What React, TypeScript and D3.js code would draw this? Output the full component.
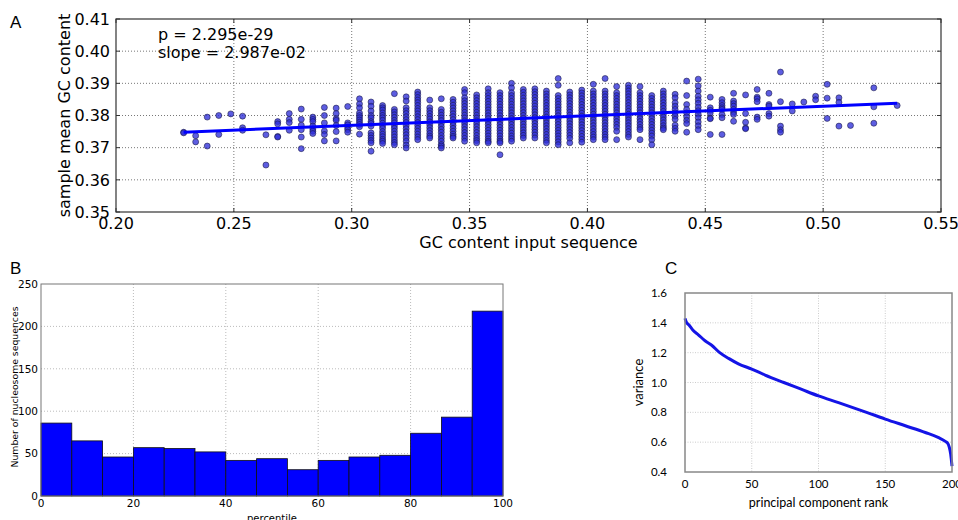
import React from "react";
import * as d3 from "d3";

// ---- panel A: GC content of input sequence (columns) vs sample mean GC content
const gcInput = [
  0.2287, 0.2338, 0.2387, 0.2436, 0.2487, 0.2537, 0.2636, 0.2686, 0.2735, 0.2786,
  0.2835, 0.2884, 0.2934, 0.2983, 0.3033, 0.3082, 0.3131, 0.3181, 0.3231, 0.328,
  0.3331, 0.338, 0.343, 0.3479, 0.353, 0.3579, 0.3629, 0.3678, 0.3728, 0.3777,
  0.3826, 0.3876, 0.3925, 0.3976, 0.4025, 0.4075, 0.4124, 0.4174, 0.4223, 0.4273,
  0.4322, 0.4372, 0.4421, 0.447, 0.4521, 0.4571, 0.462, 0.4671, 0.472, 0.477,
  0.4819, 0.4869, 0.4918, 0.4968, 0.5017, 0.5067, 0.5116, 0.5215, 0.5314,
];

const sampleMeans = [
  [0.3748, 0.3746],
  [0.3737, 0.3718],
  [0.3795, 0.3705],
  [0.38, 0.3741],
  [0.3805],
  [0.3798, 0.3762, 0.3754],
  [0.374, 0.3646],
  [0.3781, 0.3774, 0.3735, 0.3733],
  [0.3806, 0.3788, 0.3778, 0.3754],
  [0.382, 0.3788, 0.377, 0.3756, 0.3733, 0.3697],
  [0.3795, 0.3788, 0.3781, 0.3767, 0.3758, 0.3751, 0.3744],
  [0.3825, 0.38, 0.3777, 0.3752, 0.3741, 0.3721],
  [0.3823, 0.3806, 0.379, 0.3785, 0.3769, 0.375, 0.3721],
  [0.3828, 0.3777, 0.3771, 0.3762, 0.3756, 0.3748],
  [0.3852, 0.3836, 0.3824, 0.3808, 0.38, 0.3793, 0.3786, 0.3779, 0.3772, 0.3765, 0.3742],
  [0.3842, 0.3829, 0.3814, 0.38, 0.3793, 0.3781, 0.3775, 0.3767, 0.3746, 0.3738, 0.373, 0.3722, 0.3715, 0.3689],
  [0.3831, 0.3824, 0.3817, 0.3808, 0.38, 0.3793, 0.3785, 0.3776, 0.3768, 0.376, 0.375, 0.3742, 0.3734, 0.3726, 0.372, 0.3713],
  [0.3868, 0.3819, 0.3811, 0.3802, 0.3794, 0.3785, 0.3777, 0.3768, 0.376, 0.3751, 0.3742, 0.3733, 0.3724, 0.3716, 0.3709],
  [0.3858, 0.3845, 0.3824, 0.3815, 0.3806, 0.3796, 0.3787, 0.3778, 0.3768, 0.3759, 0.3749, 0.374, 0.373, 0.372, 0.3708, 0.3699],
  [0.3873, 0.3865, 0.3856, 0.3848, 0.384, 0.3831, 0.3822, 0.3814, 0.3805, 0.3796, 0.3787, 0.3778, 0.3769, 0.376, 0.3751, 0.3742, 0.3733, 0.3725],
  [0.3848, 0.3824, 0.3815, 0.3806, 0.3797, 0.3789, 0.378, 0.3771, 0.3762, 0.3753, 0.3744, 0.3736, 0.373],
  [0.3852, 0.3819, 0.381, 0.3801, 0.3792, 0.3784, 0.3775, 0.3766, 0.3757, 0.3748, 0.3738, 0.3729, 0.372, 0.371, 0.3705, 0.3699],
  [0.385, 0.3841, 0.3832, 0.3823, 0.3814, 0.3805, 0.3796, 0.3787, 0.3778, 0.3769, 0.376, 0.3751, 0.3742, 0.3735, 0.373],
  [0.3881, 0.3871, 0.3855, 0.3846, 0.3837, 0.3828, 0.3819, 0.381, 0.3801, 0.3792, 0.3783, 0.3774, 0.3765, 0.3756, 0.3747, 0.3738, 0.3729, 0.372],
  [0.3864, 0.3855, 0.3846, 0.3837, 0.3828, 0.3819, 0.381, 0.3801, 0.3792, 0.3783, 0.3774, 0.3765, 0.3756, 0.3747, 0.3738, 0.3729, 0.3722, 0.3715],
  [0.3883, 0.3871, 0.3862, 0.3853, 0.3844, 0.3835, 0.3826, 0.3817, 0.3808, 0.3799, 0.379, 0.3781, 0.3772, 0.3763, 0.3754, 0.3745, 0.3736, 0.3727, 0.372, 0.3715],
  [0.3871, 0.3862, 0.3853, 0.3844, 0.3835, 0.3826, 0.3817, 0.3808, 0.3799, 0.379, 0.3781, 0.3772, 0.3763, 0.3754, 0.3745, 0.3736, 0.3727, 0.372, 0.3715, 0.3678],
  [0.39, 0.3886, 0.3871, 0.3862, 0.3853, 0.3844, 0.3835, 0.3826, 0.3817, 0.3808, 0.3799, 0.379, 0.3781, 0.3772, 0.3763, 0.3754, 0.3745, 0.3736, 0.3728, 0.372],
  [0.3881, 0.3872, 0.3863, 0.3854, 0.3845, 0.3836, 0.3827, 0.3818, 0.3809, 0.38, 0.3791, 0.3782, 0.3773, 0.3764, 0.3755, 0.3746, 0.3738, 0.373],
  [0.3883, 0.3874, 0.3865, 0.3856, 0.3847, 0.3838, 0.3829, 0.382, 0.3811, 0.3802, 0.3793, 0.3784, 0.3775, 0.3766, 0.3757, 0.3748, 0.3739, 0.373],
  [0.3876, 0.3867, 0.3858, 0.3849, 0.384, 0.3831, 0.3822, 0.3813, 0.3804, 0.3795, 0.3786, 0.3777, 0.3768, 0.3759, 0.375, 0.3741, 0.3732, 0.3723, 0.3715],
  [0.3915, 0.3894, 0.3862, 0.3853, 0.3844, 0.3835, 0.3826, 0.3817, 0.3808, 0.3799, 0.379, 0.3781, 0.3772, 0.3763, 0.3754, 0.3745, 0.3736, 0.3727, 0.3718, 0.3709],
  [0.3873, 0.3864, 0.3855, 0.3846, 0.3837, 0.3828, 0.3819, 0.381, 0.3801, 0.3792, 0.3783, 0.3774, 0.3765, 0.3756, 0.3747, 0.3738, 0.3729, 0.3715],
  [0.3879, 0.387, 0.3861, 0.3852, 0.3843, 0.3834, 0.3825, 0.3816, 0.3807, 0.3798, 0.3789, 0.378, 0.3771, 0.3762, 0.3753, 0.3744, 0.3735, 0.3726, 0.3717],
  [0.3897, 0.3876, 0.3867, 0.3858, 0.3849, 0.384, 0.3831, 0.3822, 0.3813, 0.3804, 0.3795, 0.3786, 0.3777, 0.3768, 0.3759, 0.375, 0.3741, 0.3733, 0.3725],
  [0.3915, 0.3876, 0.3867, 0.3858, 0.3849, 0.384, 0.3831, 0.3822, 0.3813, 0.3804, 0.3795, 0.3786, 0.3777, 0.3768, 0.3759, 0.375, 0.3741, 0.3733, 0.3725],
  [0.389, 0.3871, 0.3862, 0.3853, 0.3844, 0.3835, 0.3826, 0.3817, 0.3808, 0.3799, 0.379, 0.3781, 0.3772, 0.3763, 0.3751, 0.3725],
  [0.3894, 0.3885, 0.3876, 0.3867, 0.3858, 0.3849, 0.384, 0.3831, 0.3822, 0.3813, 0.3804, 0.3795, 0.3786, 0.3777, 0.3768, 0.3759, 0.375, 0.3741, 0.3733],
  [0.389, 0.3871, 0.3862, 0.3853, 0.3844, 0.3835, 0.3826, 0.3817, 0.3808, 0.3799, 0.379, 0.3781, 0.3772, 0.3763, 0.3756, 0.3725],
  [0.3862, 0.3853, 0.3844, 0.3835, 0.3826, 0.3817, 0.3808, 0.3799, 0.379, 0.3781, 0.3772, 0.3763, 0.3754, 0.3745, 0.3736, 0.3725, 0.3709],
  [0.3876, 0.3867, 0.3858, 0.3849, 0.384, 0.3831, 0.3822, 0.3813, 0.3804, 0.3795, 0.3786, 0.3777, 0.3768, 0.3761, 0.3756],
  [0.3866, 0.3855, 0.384, 0.3829, 0.3819, 0.3808, 0.3798, 0.3788, 0.377, 0.376, 0.3751],
  [0.3907, 0.3862, 0.3834, 0.3819, 0.3808, 0.3796, 0.3785, 0.3775, 0.3748],
  [0.3913, 0.3892, 0.3876, 0.386, 0.3849, 0.3838, 0.3826, 0.3815, 0.3804, 0.3793, 0.378, 0.3768, 0.3756],
  [0.3857, 0.3824, 0.3816, 0.3808, 0.3792, 0.379, 0.3741],
  [0.385, 0.384, 0.3831, 0.3824, 0.3819, 0.3803, 0.3793, 0.3741],
  [0.3869, 0.3845, 0.3837, 0.3829, 0.3819, 0.381, 0.3803, 0.3782],
  [0.3864, 0.3806, 0.3779, 0.3761, 0.3759],
  [0.3881, 0.3857, 0.3852, 0.3843, 0.3795, 0.3788],
  [0.3869, 0.3834, 0.3829, 0.3806, 0.3798],
  [0.3935, 0.3843, 0.3767, 0.3756, 0.3748],
  [0.3836, 0.3814],
  [0.3842],
  [0.386, 0.3849],
  [0.3897, 0.3854, 0.3791],
  [0.3855, 0.3841, 0.3767],
  [0.3769],
  [0.3886, 0.3827, 0.3776],
  [0.3831],
];

const pValueText = "p = 2.295e-29";
const slopeText = "slope = 2.987e-02";
const fitSlope = 0.02987;
const fitIntercept = 0.36797;
const aXTicks = [0.2, 0.25, 0.3, 0.35, 0.4, 0.45, 0.5, 0.55];
const aYTicks = [0.35, 0.36, 0.37, 0.38, 0.39, 0.4, 0.41];

// ---- panel B: histogram of percentiles
const binEdges = [0, 6.667, 13.333, 20, 26.667, 33.333, 40, 46.667, 53.333, 60, 66.667, 73.333, 80, 86.667, 93.333, 100];
const nucleosomeCounts = [86, 65, 46, 57, 56, 52, 42, 44, 31, 42, 46, 48, 74, 93, 218];
const bXTicks = [0, 20, 40, 60, 80, 100];
const bYTicks = [0, 50, 100, 150, 200, 250];

// ---- panel C: variance by principal component rank
const pcRank = [0, 1, 3, 6, 10, 15, 20, 26, 33, 40, 50, 60, 74, 87, 100, 115, 136, 150, 165, 180, 190, 195, 197, 198, 199, 200];
const pcVariance = [1.43, 1.405, 1.385, 1.35, 1.32, 1.28, 1.25, 1.2, 1.16, 1.125, 1.09, 1.05, 1.0, 0.955, 0.91, 0.865, 0.8, 0.755, 0.71, 0.665, 0.63, 0.605, 0.59, 0.565, 0.52, 0.44];
const cXTicks = [0, 50, 100, 150, 200];
const cYTicks = [0.4, 0.6, 0.8, 1.0, 1.2, 1.4, 1.6];

const mpl = "DejaVu Sans, Verdana, sans-serif";
const arial = "Liberation Sans, Arial, sans-serif";

const PanelA = () => {
  const x = d3.scaleLinear().domain([0.2, 0.55]).range([116, 941]);
  const y = d3.scaleLinear().domain([0.35, 0.41]).range([212, 19]);
  const [x0, x1] = x.range();
  const [y0, y1] = y.range();
  const pts = gcInput.flatMap((gx, i) => sampleMeans[i].map((m) => [gx, m]));
  const xExt = d3.extent(gcInput) as [number, number];
  const fit = d3
    .line<number>()
    .x((d) => x(d))
    .y((d) => y(fitIntercept + fitSlope * d));
  const f2 = d3.format(".2f");
  return (
    <g>
      <text x={10} y={28} fontFamily={arial} fontSize={17}>A</text>
      {aXTicks.slice(1, -1).map((t) => (
        <line key={"gx" + t} x1={x(t)} x2={x(t)} y1={y1} y2={y0} stroke="#777" strokeDasharray="1,2" />
      ))}
      {aYTicks.slice(1, -1).map((t) => (
        <line key={"gy" + t} x1={x0} x2={x1} y1={y(t)} y2={y(t)} stroke="#777" strokeDasharray="1,2" />
      ))}
      {pts.map(([px, py], i) => (
        <circle key={i} cx={x(px)} cy={y(py)} r={3} fill="#2f2fd8" fillOpacity={0.78} stroke="#1a1a40" strokeWidth={0.7} strokeOpacity={0.8} />
      ))}
      <path d={fit(xExt) || ""} stroke="#0000ff" strokeWidth={3} fill="none" />
      <rect x={x0} y={y1} width={x1 - x0} height={y0 - y1} fill="none" stroke="#333" strokeWidth={1.2} />
      {aXTicks.map((t) => (
        <g key={"tx" + t}>
          <line x1={x(t)} x2={x(t)} y1={y0} y2={y0 - 4} stroke="#333" />
          <line x1={x(t)} x2={x(t)} y1={y1} y2={y1 + 4} stroke="#333" />
          <text x={x(t)} y={229} textAnchor="middle" fontFamily={mpl} fontSize={16}>{f2(t)}</text>
        </g>
      ))}
      {aYTicks.map((t) => (
        <g key={"ty" + t}>
          <line x1={x0} x2={x0 + 4} y1={y(t)} y2={y(t)} stroke="#333" />
          <line x1={x1} x2={x1 - 4} y1={y(t)} y2={y(t)} stroke="#333" />
          <text x={110} y={y(t)} dy="0.36em" textAnchor="end" fontFamily={mpl} fontSize={16}>{f2(t)}</text>
        </g>
      ))}
      <text x={158} y={40} fontFamily={mpl} fontSize={16}>{pValueText}</text>
      <text x={158} y={58} fontFamily={mpl} fontSize={16}>{slopeText}</text>
      <text x={(x0 + x1) / 2} y={248} textAnchor="middle" fontFamily={mpl} fontSize={16}>GC content input sequence</text>
      <text transform={`translate(70,${(y0 + y1) / 2}) rotate(-90)`} textAnchor="middle" fontFamily={mpl} fontSize={16}>
        sample mean GC content
      </text>
    </g>
  );
};

const PanelB = () => {
  const x = d3.scaleLinear().domain([0, 100]).range([41, 503]);
  const y = d3.scaleLinear().domain([0, 250]).range([496, 284]);
  const [x0, x1] = x.range();
  const [y0, y1] = y.range();
  return (
    <g>
      <text x={10} y={274} fontFamily={arial} fontSize={17}>B</text>
      {bXTicks.slice(1, -1).map((t) => (
        <line key={"gx" + t} x1={x(t)} x2={x(t)} y1={y1} y2={y0} stroke="#bbb" strokeDasharray="1,2" />
      ))}
      {bYTicks.slice(1, -1).map((t) => (
        <line key={"gy" + t} x1={x0} x2={x1} y1={y(t)} y2={y(t)} stroke="#bbb" strokeDasharray="1,2" />
      ))}
      {nucleosomeCounts.map((c, i) => (
        <rect key={i} x={x(binEdges[i])} y={y(c)} width={x(binEdges[i + 1]) - x(binEdges[i])} height={y(0) - y(c)} fill="#0000ff" stroke="#111" strokeWidth={0.8} />
      ))}
      <rect x={x0} y={y1} width={x1 - x0} height={y0 - y1} fill="none" stroke="#777" strokeWidth={1} />
      {bXTicks.map((t) => (
        <text key={"tx" + t} x={x(t)} y={507} textAnchor="middle" fontFamily={mpl} fontSize={10.5}>{t}</text>
      ))}
      {bYTicks.map((t) => (
        <text key={"ty" + t} x={38} y={y(t)} dy="0.36em" textAnchor="end" fontFamily={mpl} fontSize={10.5}>{t}</text>
      ))}
      <text x={(x0 + x1) / 2} y={522} textAnchor="middle" fontFamily={mpl} fontSize={10}>percentile</text>
      <text transform={`translate(18,${(y0 + y1) / 2 - 3}) rotate(-90)`} textAnchor="middle" fontFamily={mpl} fontSize={9.3}>
        Number of nucleosome sequences
      </text>
    </g>
  );
};

const PanelC = () => {
  const x = d3.scaleLinear().domain([0, 200]).range([685, 952]);
  const y = d3.scaleLinear().domain([0.4, 1.6]).range([472, 293]);
  const [x0, x1] = x.range();
  const [y0, y1] = y.range();
  const line = d3
    .line<number>()
    .x((d, i) => x(pcRank[i]))
    .y((d) => y(d))
    .curve(d3.curveMonotoneX);
  const f1 = d3.format(".1f");
  return (
    <g>
      <text x={665} y={274} fontFamily={arial} fontSize={17}>C</text>
      {cXTicks.slice(1, -1).map((t) => (
        <line key={"gx" + t} x1={x(t)} x2={x(t)} y1={y1} y2={y0} stroke="#ccc" strokeDasharray="1,1.5" />
      ))}
      {cYTicks.slice(1, -1).map((t) => (
        <line key={"gy" + t} x1={x0} x2={x1} y1={y(t)} y2={y(t)} stroke="#ccc" strokeDasharray="1,1.5" />
      ))}
      <path d={line(pcVariance) || ""} stroke="#1414e6" strokeWidth={3} fill="none" />
      <rect x={x0} y={y1} width={x1 - x0} height={y0 - y1} fill="none" stroke="#888" strokeWidth={1.5} />
      {cXTicks.map((t) => (
        <text key={"tx" + t} x={x(t)} y={488} textAnchor="middle" fontFamily="Lato, sans-serif" fontSize={11.5}>{t}</text>
      ))}
      {cYTicks.map((t) => (
        <text key={"ty" + t} x={667} y={y(t)} dy="0.36em" textAnchor="end" fontFamily="Lato, sans-serif" fontSize={11.5}>{f1(t)}</text>
      ))}
      <text x={(x0 + x1) / 2} y={507} textAnchor="middle" fontFamily="Lato, sans-serif" fontSize={12.5}>principal component rank</text>
      <text transform={`translate(643,${(y0 + y1) / 2}) rotate(-90)`} textAnchor="middle" fontFamily="Lato, sans-serif" fontSize={13}>
        variance
      </text>
    </g>
  );
};

export default function App() {
  return (
    <svg width={958} height={520} style={{ position: "absolute", left: 0, top: 0, background: "#fff" }}>
      <PanelA />
      <PanelB />
      <PanelC />
    </svg>
  );
}
